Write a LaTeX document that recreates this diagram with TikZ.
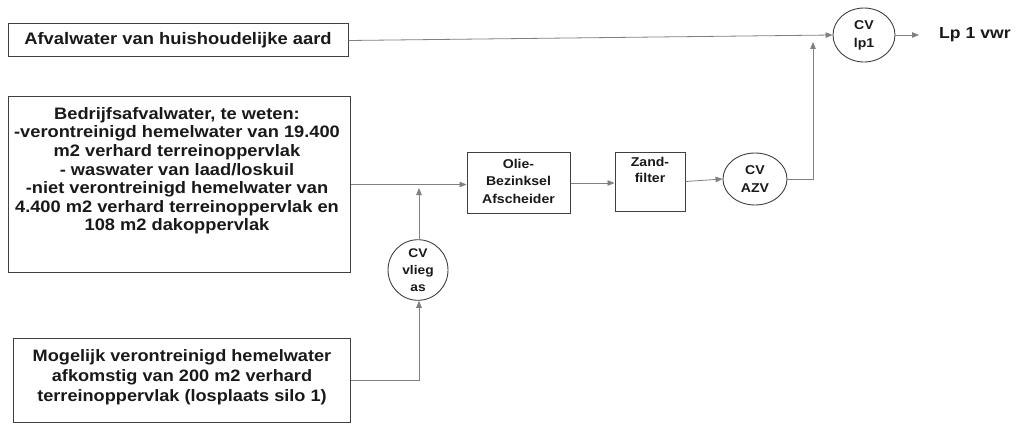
\documentclass[tikz,border=0pt]{standalone}
\usepackage{fontspec}
\setmainfont{Liberation Sans}[FakeStretch=1.1]
\usetikzlibrary{arrows.meta,calc,shapes.geometric}
\begin{document}
\begin{tikzpicture}[x=1pt,y=-1pt,
  boxs/.style={draw=black!75,line width=1pt,inner sep=0pt,anchor=center},
  ell/.style={draw=black!75,line width=0.9pt,ellipse,inner sep=0pt,align=center,font=\bfseries\fontsize{12.8}{18}\selectfont,text=black!90},
  txt/.style={font=\bfseries,align=center,inner sep=0pt,text=black!90},
  conn/.style={draw=black!50,line width=0.8pt},
  arr/.style={conn,-{Triangle[length=7pt,width=5.5pt]}}
]
\useasboundingbox (0,0) rectangle (1022,425);
% boxes
\node[boxs,minimum width=340pt,minimum height=33pt] (b1) at (178,40.5) {};
\node[txt,font=\bfseries\fontsize{16.7}{19}\selectfont] (t1) at (178,40) {Afvalwater van huishoudelijke aard};
\node[boxs,minimum width=342pt,minimum height=175pt] (b2) at (179,184.5) {};
\node[txt,anchor=north,font=\bfseries\fontsize{16.6}{18.6}\selectfont] (t2) at (177,107) {Bedrijfsafvalwater, te weten:\\-verontreinigd hemelwater van 19.400\\m2 verhard terreinoppervlak\\- waswater van laad/loskuil\\-niet verontreinigd hemelwater van\\4.400 m2 verhard terreinoppervlak en\\108 m2 dakoppervlak};
\node[boxs,minimum width=337pt,minimum height=84pt] (b3) at (181.5,380) {};
\node[txt,anchor=north,font=\bfseries\fontsize{16.5}{20.3}\selectfont] (t3) at (182,349) {Mogelijk verontreinigd hemelwater\\afkomstig van 200 m2 verhard\\terreinoppervlak (losplaats silo 1)};
\node[boxs,minimum width=103pt,minimum height=61pt] (olie) at (518.5,183) {};
\node[txt,font=\bfseries\fontsize{12.8}{17.5}\selectfont] (t4) at (518.5,181) {Olie-\\Bezinksel\\Afscheider};
\node[boxs,minimum width=70pt,minimum height=59pt] (zand) at (650,181.5) {};
\node[txt,anchor=north,font=\bfseries\fontsize{12.8}{16.5}\selectfont] (t5) at (650,157) {Zand-\\filter};
% ellipses
\node[ell,minimum width=64pt,minimum height=52pt] (azv) at (755,179) {CV\\AZV};
\node[ell,minimum width=62pt,minimum height=54pt] (lp1) at (864,35) {CV\\lp1};
\node[ell,minimum width=60pt,minimum height=50pt,font=\bfseries\fontsize{12.5}{17}\selectfont] (vl) at (418,270) {CV\\vlieg\\as};
\node[txt,anchor=west,font=\bfseries\fontsize{16}{17}\selectfont] (lp) at (939,35) {Lp 1 vwr};
% coordinates
\coordinate (j1) at (419,188);
\coordinate (j2) at (813,42);
\coordinate (o) at (919,35);
% connectors
\draw[arr] (b1.east) -- (lp1.west);
\draw[arr] (b2.east) -- (b2.east -| olie.west);
\draw[arr] (olie.east) -- (olie.east -| zand.west);
\draw[arr] (zand.east) -- (azv.west);
\draw[arr] (azv.east) -| (j2);
\draw[arr] (lp1.east) -- (o);
\draw[arr] (vl.north -| j1) -- (j1);
\draw[arr] (b3.east) -| (vl.south -| j1);
\end{tikzpicture}
\end{document}
